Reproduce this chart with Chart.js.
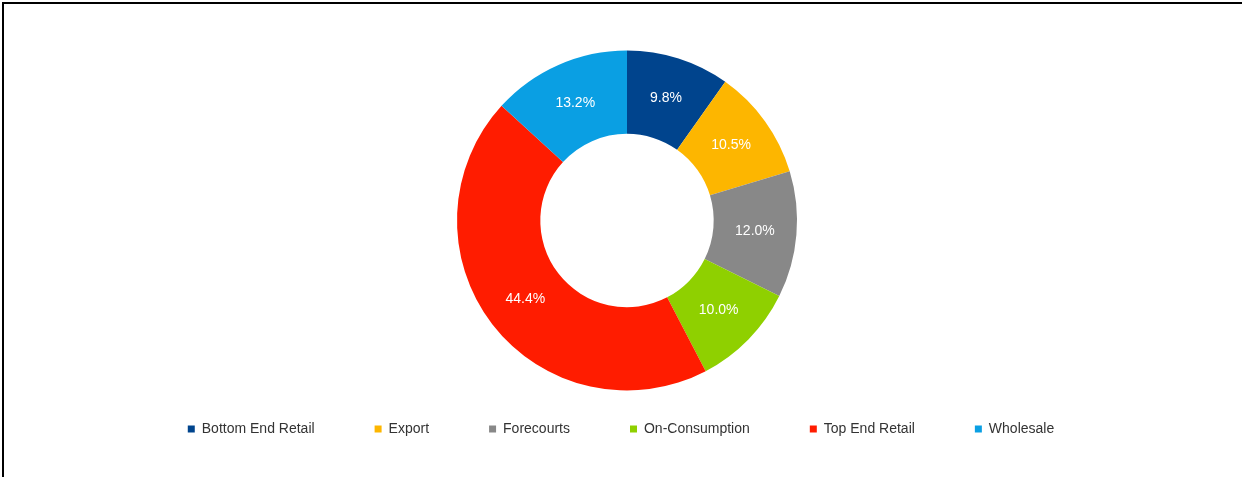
<!DOCTYPE html>
<html>
<head>
<meta charset="utf-8">
<script src="https://cdn.jsdelivr.net/npm/chart.js@4/dist/chart.umd.min.js"></script>
<style>
    html, body { margin: 0; padding: 0; background: #fff; overflow: hidden; }
    #frame { position: absolute; left: 2px; top: 2px; width: 1240px; height: 475px; border-top: 2px solid #000; border-left: 2px solid #000; }
    #wrap { position: absolute; left: 0; top: 0; width: 1242px; height: 446px; }
</style>
</head>
<body>
<div id="frame"></div>
<div id="wrap"><canvas id="donut"></canvas></div>
<script>
const categories = ['Bottom End Retail', 'Export', 'Forecourts', 'On-Consumption', 'Top End Retail', 'Wholesale']
const shares = [9.8, 10.5, 12.0, 10.0, 44.4, 13.2]
const colors = ['#00448d', '#fdb600', '#888888', '#8fd000', '#ff1c00', '#0a9fe3']

// white percentage labels in the middle of each ring segment
const sliceLabels = {
    id: 'sliceLabels',
    afterLayout(chart) {
        // the legend sits a little left of the ring's centre
        chart.legend.left -= 6
        chart.legend.right -= 6
    },
    afterDatasetsDraw(chart) {
        const ctx = chart.ctx
        const meta = chart.getDatasetMeta(0)
        ctx.save()
        ctx.fillStyle = '#ffffff'
        ctx.font = '14px "Liberation Sans", Arial, sans-serif'
        ctx.textAlign = 'center'
        ctx.textBaseline = 'middle'
        meta.data.forEach((arc, i) => {
            const p = arc.tooltipPosition()
            ctx.fillText(shares[i].toFixed(1) + '%', p.x, p.y)
        })
        ctx.restore()
    },
}

const ctx = document.querySelector('#donut').getContext('2d')

const donut = new Chart(ctx, {
    type: 'doughnut',
    data: {
        labels: categories,
        datasets: [
            {
                data: shares,
                backgroundColor: colors,
                borderWidth: 0,
                radius: 170,
                cutout: '51%',
                clip: false,
            },
        ],
    },
    options: {
        responsive: true,
        maintainAspectRatio: false,
        animation: false,
        layout: { padding: { top: 79, left: 12 } },
        plugins: {
            tooltip: { enabled: false },
            legend: {
                position: 'bottom',
                labels: {
                    usePointStyle: true,
                    pointStyle: 'rect',
                    boxWidth: 7,
                    boxHeight: 7,
                    padding: 60,
                    color: '#333333',
                    font: { family: '"Liberation Sans", Arial, sans-serif', size: 14 },
                },
            },
        },
    },
    plugins: [sliceLabels],
})
</script>
</body>
</html>
